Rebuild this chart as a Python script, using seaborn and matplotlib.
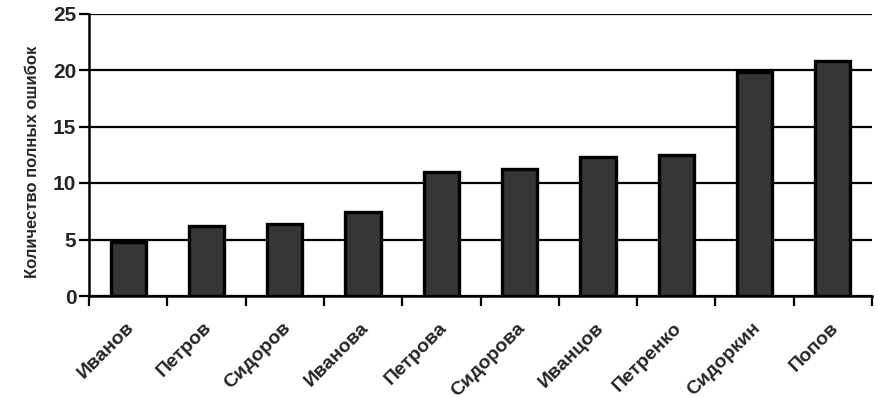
import numpy as np
import pandas as pd
import seaborn as sns
import matplotlib.pyplot as plt
from matplotlib.transforms import ScaledTranslation

# data
names = ['Иванов', 'Петров', 'Сидоров', 'Иванова', 'Петрова',
         'Сидорова', 'Иванцов', 'Петренко', 'Сидоркин', 'Попов']
errors = [4.8, 6.2, 6.4, 7.4, 11.0, 11.2, 12.3, 12.5, 19.8, 20.8]
y_ticks = [0, 5, 10, 15, 20, 25]
y_label = 'Количество полных ошибок'

df = pd.DataFrame({'name': names, 'errors': errors})

sns.set_style('white')
plt.rcParams['font.family'] = ['Liberation Sans', 'DejaVu Sans']
plt.rcParams['font.weight'] = 'bold'

fig = plt.figure(figsize=(8.79, 3.98), dpi=100)
ax = fig.add_axes([89 / 879, 1 - 296 / 398, (872 - 89) / 879, (296 - 13.5) / 398])

sns.barplot(data=df, x='name', y='errors', ax=ax, color='#363636',
            saturation=1, width=0.45, edgecolor='black', linewidth=2.4,
            zorder=3)

ax.set_xlim(-0.5, len(names) - 0.5)
ax.set_ylim(0, 25)
ax.set_yticks(y_ticks)
ax.yaxis.grid(True, color='black', linewidth=1.6, zorder=0)
ax.set_axisbelow(True)

for s in ['top', 'right']:
    ax.spines[s].set_visible(False)
for s in ['left', 'bottom']:
    ax.spines[s].set_color('black')
    ax.spines[s].set_linewidth(1.8)

# ticks between categories
ax.set_xticks(np.arange(-0.5, len(names)), minor=True)
ax.tick_params(axis='x', which='minor', bottom=True, length=7, width=1.6,
               color='black', direction='out')
ax.tick_params(axis='x', which='major', bottom=True, length=0, pad=21)
ax.tick_params(axis='y', left=True, length=7, width=1.6, color='black',
               direction='out', labelsize=15, pad=2)

ax.set_xticklabels(names, rotation=45, ha='right', va='center',
                   rotation_mode='anchor', fontsize=14, fontweight='bold')
for lab in ax.get_xticklabels():
    lab.set_transform(lab.get_transform() + ScaledTranslation(0.03, 0, fig.dpi_scale_trans))

ax.set_xlabel('')
ax.set_ylabel(y_label, fontsize=12, fontweight='bold')
ax.yaxis.set_label_coords(-0.062, 0.475)

fig.savefig('out.png', dpi=100)
